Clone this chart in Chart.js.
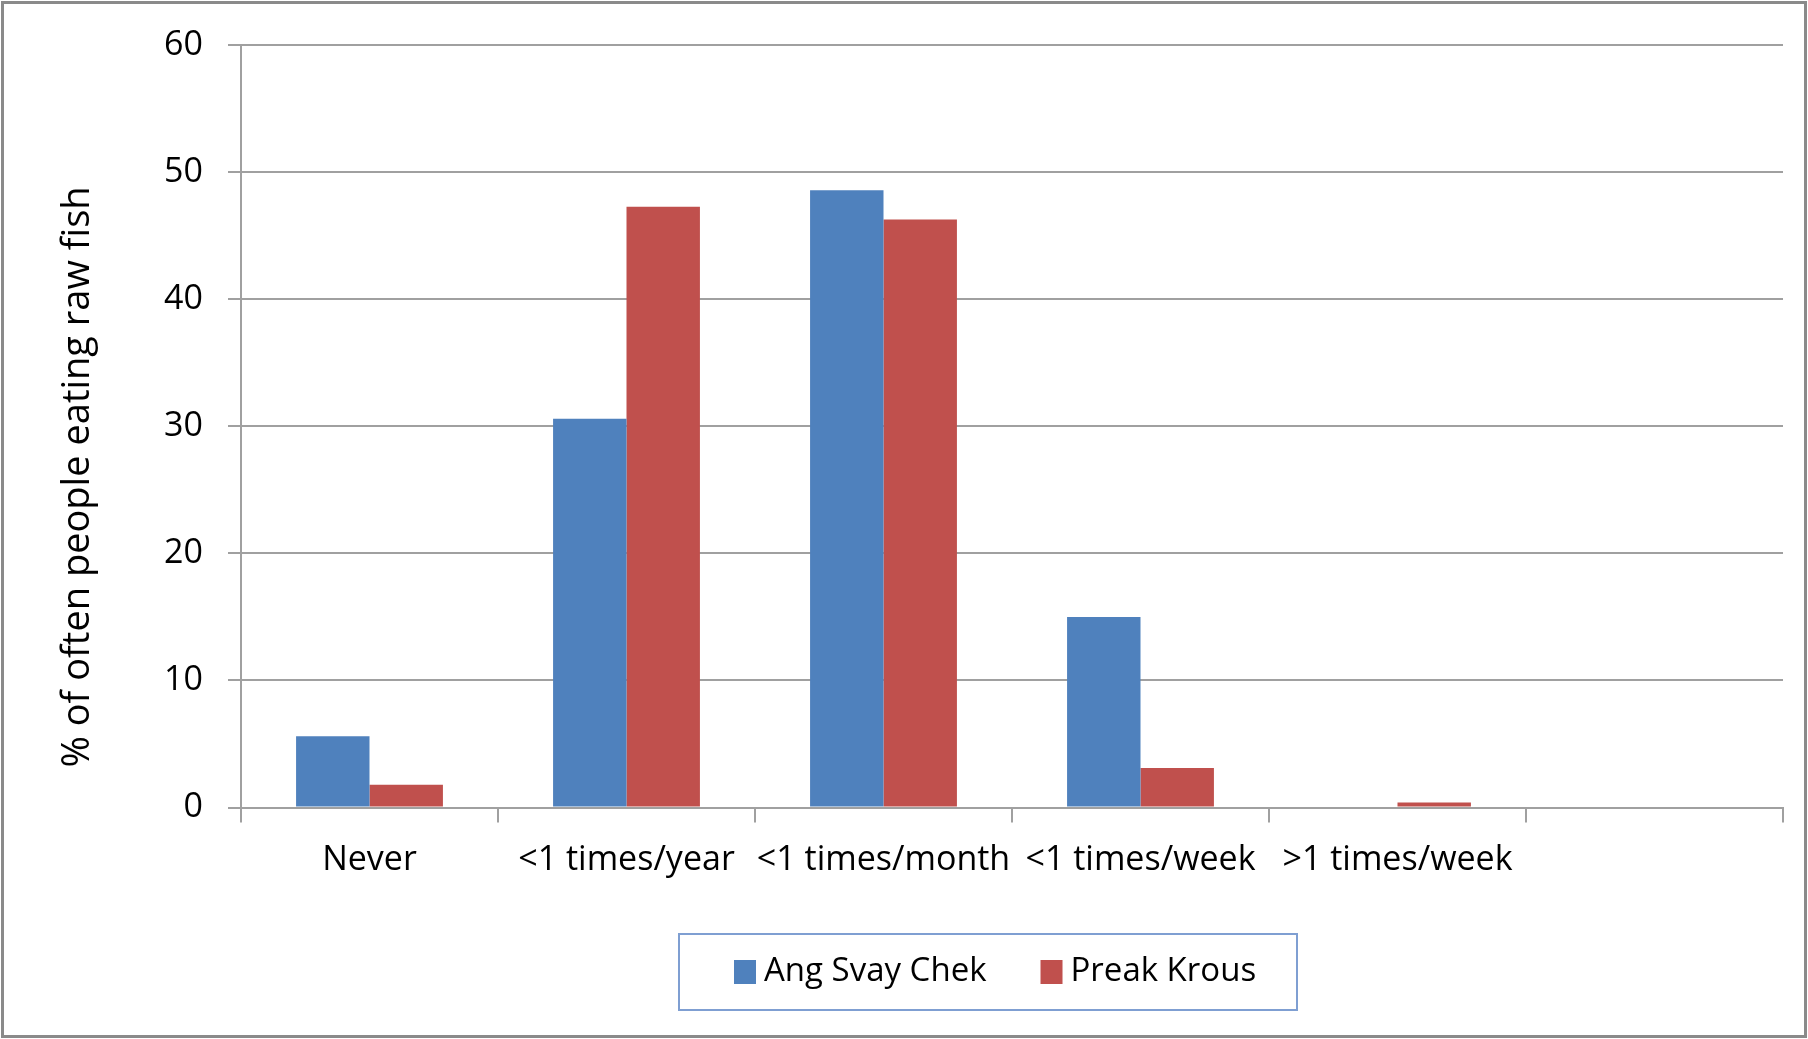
<!DOCTYPE html>
<html>
<head>
<meta charset="utf-8">
<script src="https://cdn.jsdelivr.net/npm/chart.js@4/dist/chart.umd.min.js"></script>
<style>
  html, body { margin: 0; padding: 0; background: #fff; overflow: hidden; }
  canvas { display: block; }
</style>
</head>
<body>
<canvas id="c" width="1808" height="1039"></canvas>
<script>
// Frequency of raw-fish eating in two villages (% of respondents)
const categories = ['Never', '<1 times/year', '<1 times/month', '<1 times/week', '>1 times/week', ''];
const angSvayChek = [5.6, 30.6, 48.6, 15.0, 0, null];
const preakKrous = [1.8, 47.3, 46.3, 3.1, 0.4, null];
const seriesNames = ['Ang Svay Chek', 'Preak Krous'];
const seriesColors = ['#4F81BD', '#C0504D'];
const yMin = 0, yMax = 60, yStep = 10;
const yTitle = '% of often people eating raw fish';

const FONT = "'Open Sans', 'DejaVu Sans', sans-serif";
const TEXT_COLOR = '#000';
const GRID_COLOR = '#a0a0a0';

// Outer frame, rotated axis title and the boxed legend
const decorations = {
  id: 'decorations',
  beforeDraw(chart) {
    const ctx = chart.ctx;
    ctx.save();
    ctx.fillStyle = '#fff';
    ctx.fillRect(0, 0, chart.width, chart.height);
    ctx.restore();
  },
  afterDraw(chart) {
    const ctx = chart.ctx;
    ctx.save();
    ctx.strokeStyle = '#8a8a8a';
    ctx.lineWidth = 3;
    ctx.strokeRect(2.5, 2.5, chart.width - 5, chart.height - 5);

    // y-axis title
    ctx.save();
    ctx.translate(78, 477);
    ctx.rotate(-Math.PI / 2);
    ctx.font = '38px ' + FONT;
    ctx.fillStyle = TEXT_COLOR;
    ctx.textAlign = 'center';
    ctx.textBaseline = 'middle';
    ctx.fillText(yTitle, 0, 0);
    ctx.restore();

    // legend box
    const box = { left: 679, top: 934, width: 618, height: 76 };
    ctx.strokeStyle = '#7f9fd2';
    ctx.lineWidth = 2;
    ctx.strokeRect(box.left, box.top, box.width, box.height);
    ctx.font = '33px ' + FONT;
    const sw = 22, sh = 24, gapText = 8, gapItem = 54;
    let x = box.left + 55;
    const cy = box.top + box.height / 2;
    chart.data.datasets.forEach((d) => {
      ctx.fillStyle = d.backgroundColor;
      ctx.fillRect(x, cy - sh / 2, sw, sh);
      ctx.fillStyle = TEXT_COLOR;
      ctx.textAlign = 'left';
      ctx.textBaseline = 'middle';
      ctx.fillText(d.label, x + sw + gapText, cy);
      x += sw + gapText + ctx.measureText(d.label).width + gapItem;
    });
    ctx.restore();
  }
};

new Chart(document.getElementById('c'), {
  type: 'bar',
  data: {
    labels: categories,
    datasets: [
      { label: seriesNames[0], data: angSvayChek, backgroundColor: seriesColors[0] },
      { label: seriesNames[1], data: preakKrous, backgroundColor: seriesColors[1] }
    ]
  },
  options: {
    responsive: false,
    animation: false,
    devicePixelRatio: 1,
    layout: { padding: { left: 0, right: 25, top: 44, bottom: 0 } },
    datasets: { bar: { categoryPercentage: 2 / 3.5, barPercentage: 1.0, borderWidth: 0 } },
    plugins: {
      legend: { display: false },
      tooltip: { enabled: false },
      title: { display: false }
    },
    scales: {
      x: {
        grid: {
          offset: true,
          drawOnChartArea: false,
          drawTicks: true,
          tickLength: 15,
          color: GRID_COLOR,
          lineWidth: 2
        },
        border: { display: true, color: GRID_COLOR, width: 2 },
        ticks: {
          font: { family: FONT, size: 34 },
          color: TEXT_COLOR,
          padding: 17,
          maxRotation: 0,
          autoSkip: false
        },
        afterFit(scale) { scale.height = 231.5; }
      },
      y: {
        min: yMin,
        max: yMax,
        grid: {
          drawTicks: true,
          tickLength: 13,
          color: GRID_COLOR,
          lineWidth: 2
        },
        border: { display: true, color: GRID_COLOR, width: 2 },
        ticks: {
          stepSize: yStep,
          font: { family: FONT, size: 34 },
          color: TEXT_COLOR,
          padding: 25
        },
        afterFit(scale) { scale.width = 241; }
      }
    }
  },
  plugins: [decorations]
});
</script>
</body>
</html>
